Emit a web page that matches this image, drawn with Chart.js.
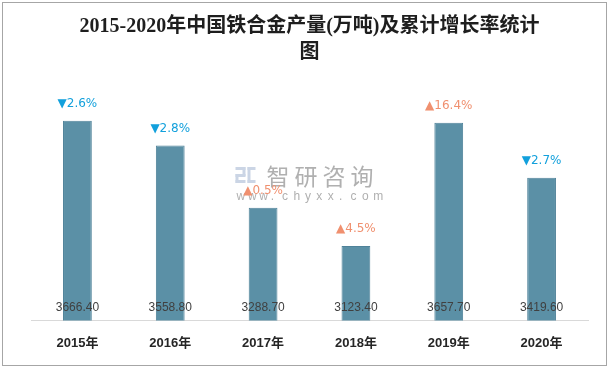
<!DOCTYPE html>
<html>
<head>
<meta charset="utf-8">
<style>
html,body{margin:0;padding:0;background:#fff;}
#wrap{width:610px;height:369px;}
</style>
<script src="https://cdn.jsdelivr.net/npm/chart.js@4/dist/chart.umd.min.js"></script>
</head>
<body>
<div id="wrap"><canvas id="c" width="610" height="369"></canvas></div>
<script>
const categories = ['2015年','2016年','2017年','2018年','2019年','2020年'];
const production = [3666.40, 3558.80, 3288.70, 3123.40, 3657.70, 3419.60];
const growth = [-2.6, -2.8, 0.5, 4.5, 16.4, -2.7];
const titleLines = ['2015-2020年中国铁合金产量(万吨)及累计增长率统计', '图'];

const upColor = '#f0906f';
const downColor = '#12a0dc';

const overlay = {
  id: 'overlay',
  beforeDraw(chart) {
    const ctx = chart.ctx;
    ctx.save();
    ctx.fillStyle = '#ffffff';
    ctx.fillRect(0, 0, chart.width, chart.height);
    ctx.strokeStyle = '#a6a6a6';
    ctx.lineWidth = 1;
    ctx.strokeRect(2.5, 2.5, 604, 363);
    ctx.restore();
  },
  beforeDatasetsDraw(chart) {
    const ctx = chart.ctx;
    const a = chart.chartArea;
    const cx = (a.left + a.right) / 2;
    ctx.save();
    // watermark logo
    ctx.fillStyle = '#cbd5e5';
    const lx = cx - 74, ly = 167;
    ctx.fillRect(lx, ly, 10, 3);
    ctx.fillRect(lx + 7, ly, 3, 9);
    ctx.fillRect(lx, ly + 7, 10, 3);
    ctx.fillRect(lx, ly + 7, 3, 9);
    ctx.fillRect(lx, ly + 13, 10, 3);
    ctx.fillRect(lx + 12, ly, 3, 16);
    ctx.fillRect(lx + 12, ly, 8, 3);
    ctx.fillRect(lx + 12, ly + 13, 8, 3);
    ctx.fillStyle = '#b0b0b0';
    ctx.font = '23px "Noto Sans CJK SC"';
    ctx.textBaseline = 'middle';
    ctx.textAlign = 'left';
    const wm = '智研咨询';
    let x = cx - 43;
    for (const ch of wm) { ctx.fillText(ch, x, 176); x += 28; }
    ctx.font = '12px "Liberation Sans"';
    const url = 'www.chyxx.com';
    x = cx - 73;
    for (const ch of url) { ctx.fillText(ch, x, 197); x += 11.4; }
    ctx.restore();
  },
  afterDatasetsDraw(chart) {
    const ctx = chart.ctx;
    const meta = chart.getDatasetMeta(0);
    const a = chart.chartArea;
    ctx.save();
    ctx.textAlign = 'center';
    ctx.textBaseline = 'middle';
    meta.data.forEach((bar, i) => {
      ctx.font = '12px "Liberation Sans"';
      ctx.fillStyle = '#404040';
      ctx.fillText(production[i].toFixed(2), bar.x, a.bottom - 13);
      const g = growth[i];
      const txt = (g < 0 ? '▼' : '▲') + Math.abs(g).toFixed(1) + '%';
      ctx.font = '12px "DejaVu Sans"';
      ctx.fillStyle = g < 0 ? downColor : upColor;
      ctx.fillText(txt, bar.x, bar.y - 17);
    });
    ctx.restore();
  }
};

new Chart(document.getElementById('c'), {
  type: 'bar',
  data: {
    labels: categories,
    datasets: [{
      data: production,
      backgroundColor: '#5b90a6',
      borderColor: '#4f8299',
      borderWidth: 1,
      barPercentage: 0.31,
      categoryPercentage: 1
    }]
  },
  options: {
    responsive: false,
    devicePixelRatio: 1,
    animation: false,
    layout: { padding: { left: 31, right: 22, top: 0, bottom: 11 } },
    plugins: {
      legend: { display: false },
      tooltip: { enabled: false },
      title: {
        display: true,
        text: titleLines,
        color: '#1e1e1e',
        font: { family: '"Liberation Serif", "Noto Sans CJK SC"', size: 20, weight: 'bold', lineHeight: 1.3 },
        padding: { top: 14, bottom: 24 }
      }
    },
    scales: {
      x: {
        grid: { display: false },
        border: { display: true, color: '#d9d9d9', width: 1 },
        ticks: { color: '#262626', padding: 7, font: { family: '"Liberation Sans", "Noto Sans CJK SC"', size: 13, weight: 'bold' } }
      },
      y: {
        display: false,
        min: 2800,
        max: 3800
      }
    }
  },
  plugins: [overlay]
});
</script>
</body>
</html>
